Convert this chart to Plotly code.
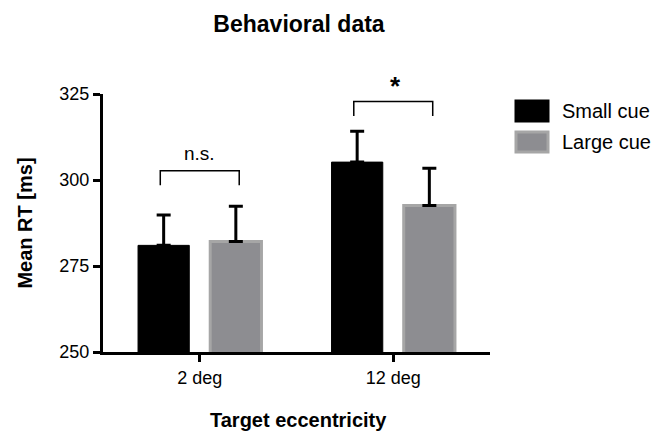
import plotly.graph_objects as go

categories = ["2 deg", "12 deg"]
small_cue = [281.0, 305.2]
small_err = [8.8, 9.0]
large_cue = [282.1, 292.6]
large_err = [10.3, 10.8]
y_ticks = [250, 275, 300, 325]
series_names = ["Small cue", "Large cue"]
sig_labels = ["n.s.", "*"]
bracket_tops = [302.7, 322.8]

FONT = "Arial, Liberation Sans, Helvetica, sans-serif"
GRAY = "#8d8d91"
GRAY_EDGE = "#a6a6a6"

L, R, T, B = 103, 172, 94, 83
PW, PH = 662 - L - R, 435 - T - B

def px_to_paper_x(px):
    return (px - L) / PW

def px_to_paper_y(py):
    return 1 - (py - T) / PH

fig = go.Figure()
fig.add_trace(go.Bar(
    x=[0, 1], y=small_cue, name=series_names[0],
    marker=dict(color="black", line=dict(color="black", width=1)),
    error_y=dict(type="data", symmetric=False, array=small_err,
                 arrayminus=[0, 0], color="black", thickness=3, width=7),
    showlegend=False,
))
fig.add_trace(go.Bar(
    x=[0, 1], y=large_cue, name=series_names[1],
    marker=dict(color=GRAY, line=dict(color=GRAY_EDGE, width=3)),
    error_y=dict(type="data", symmetric=False, array=large_err,
                 arrayminus=[0, 0], color="black", thickness=3, width=7),
    showlegend=False,
))

# significance brackets
for i, (top, lab) in enumerate(zip(bracket_tops, sig_labels)):
    x0, x1 = i - 0.204, i + 0.204
    drop = 4.2
    fig.add_shape(type="path",
                  path=f"M {x0} {top - drop} L {x0} {top} L {x1} {top} L {x1} {top - drop}",
                  xref="x", yref="y", line=dict(color="black", width=1.5))
    if lab == "*":
        fig.add_annotation(x=i + 0.01, y=px_to_paper_y(86), xref="x", yref="paper",
                           text="<b>*</b>", showarrow=False, yanchor="middle",
                           font=dict(family=FONT, size=26, color="black"))
    else:
        fig.add_annotation(x=i, y=top + 1.3, xref="x", yref="y",
                           text=lab, showarrow=False, yanchor="bottom",
                           font=dict(family=FONT, size=19, color="black"))

# legend (manual, large swatches)
leg_items = [(series_names[0], "black", "black"), (series_names[1], GRAY, GRAY_EDGE)]
for k, (name, fc, lc) in enumerate(leg_items):
    y_top = 100 + k * 31
    fig.add_shape(type="rect", xref="paper", yref="paper",
                  x0=px_to_paper_x(516), x1=px_to_paper_x(548),
                  y0=px_to_paper_y(y_top + 1), y1=px_to_paper_y(y_top + 21),
                  fillcolor=fc, line=dict(color=lc, width=3))
    fig.add_annotation(xref="paper", yref="paper",
                       x=px_to_paper_x(560), y=px_to_paper_y(y_top + 11),
                       text=name, showarrow=False, xanchor="left", yanchor="middle",
                       font=dict(family=FONT, size=20, color="black"))

# x-axis title placed at its reference position
fig.add_annotation(xref="paper", yref="paper",
                   x=px_to_paper_x(298), y=px_to_paper_y(420),
                   text="<b>Target eccentricity</b>", showarrow=False,
                   xanchor="center", yanchor="middle",
                   font=dict(family=FONT, size=20, color="black"))

fig.update_layout(
    width=662, height=435,
    margin=dict(l=L, r=R, t=T, b=B),
    paper_bgcolor="white", plot_bgcolor="white",
    barmode="group", bargap=0.254, bargroupgap=0.29,
    title=dict(text="<b>Behavioral data</b>", x=299 / 662, xanchor="center",
               y=1 - 24 / 435, yanchor="middle",
               font=dict(family=FONT, size=23, color="black")),
    font=dict(family=FONT, color="black"),
    xaxis=dict(
        range=[-0.5, 1.5], tickmode="array", tickvals=[0, 1], ticktext=categories,
        showline=True, linecolor="black", linewidth=3,
        ticks="outside", ticklen=7, tickwidth=3, tickcolor="black",
        tickfont=dict(family=FONT, size=18, color="black"),
        showgrid=False, zeroline=False, automargin=False,
    ),
    yaxis=dict(
        range=[250, 325], tickvals=y_ticks,
        showline=True, linecolor="black", linewidth=3,
        ticks="outside", ticklen=7, tickwidth=3, tickcolor="black",
        tickfont=dict(family=FONT, size=18, color="black"),
        showgrid=False, zeroline=False, automargin=False,
        title=dict(text="<b>Mean RT [ms]</b>", standoff=22,
                   font=dict(family=FONT, size=20, color="black")),
    ),
)

fig.write_html("out.html")
